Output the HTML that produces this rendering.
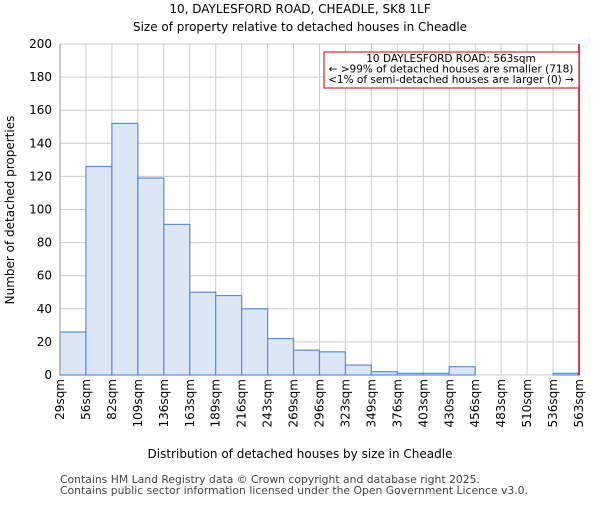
<!DOCTYPE html>
<html><head><meta charset="utf-8"><style>body{margin:0;background:#fff}svg{font-family:"DejaVu Sans","Liberation Sans",sans-serif}</style></head>
<body>
<svg id="c" width="600" height="500">
<text x="300" y="13" text-anchor="middle" font-size="12">10, DAYLESFORD ROAD, CHEADLE, SK8 1LF</text>
<text x="300" y="31" text-anchor="middle" font-size="12">Size of property relative to detached houses in Cheadle</text>
<g id="grid"></g><g id="bars"></g><g id="axes"></g>
<text x="300" y="458" text-anchor="middle" font-size="12">Distribution of detached houses by size in Cheadle</text>
<text transform="translate(14,210) rotate(-90)" text-anchor="middle" font-size="12">Number of detached properties</text>
<text x="60" y="483" font-size="10.8" fill="#444">Contains HM Land Registry data © Crown copyright and database right 2025.</text>
<text x="60" y="494" font-size="10.8" fill="#444">Contains public sector information licensed under the Open Government Licence v3.0.</text>
</svg>
<script>
const categories=["29sqm","56sqm","82sqm","109sqm","136sqm","163sqm","189sqm","216sqm","243sqm","269sqm","296sqm","323sqm","349sqm","376sqm","403sqm","430sqm","456sqm","483sqm","510sqm","536sqm","563sqm"];
const counts=[26,126,152,119,91,50,48,40,22,15,14,6,2,1,1,5,0,0,0,1];
const yTicks=[0,20,40,60,80,100,120,140,160,180,200];
const NS="http://www.w3.org/2000/svg";
const L=60,R=579,T=44,B=375,yMax=200;
const bw=(R-L)/counts.length;
const x=i=>L+i*bw, y=v=>B-(v/yMax)*(B-T);
function mk(p,t,a){const e=document.createElementNS(NS,t);for(const k in a)e.setAttribute(k,a[k]);document.getElementById(p).appendChild(e);return e;}
yTicks.forEach(v=>{
 const g=mk('grid','line',{x1:L,x2:R,y1:y(v),y2:y(v),stroke:'#ccc'});
 
 
 const t=mk('axes','text',{x:L-8,y:y(v)+4,'text-anchor':'end','font-size':12});
 t.textContent=v;
 
 
});
categories.forEach((c,i)=>{
 const g=mk('grid','line',{x1:x(i),x2:x(i),y1:T,y2:B,stroke:'#ccc'});
 
 
 const t=mk('axes','text',{transform:`translate(${x(i)+4},379) rotate(-90)`,'text-anchor':'end','font-size':12});
 t.textContent=c;
 
 
});
counts.forEach((v,i)=>{
 const r=mk('bars','rect',{x:x(i),y:y(v),width:bw,height:B-y(v),fill:'#dce6f4',stroke:'#5b8fd6','stroke-width':1.2});
 
 
});
const ax=mk('axes','line',{x1:L,x2:L,y1:T,y2:B,stroke:'#999'});


const ml=mk('axes','line',{x1:R,x2:R,y1:T,y2:B,stroke:'#cc0000','stroke-width':1.5});


const box=mk('axes','rect',{x:324,y:52,width:255,height:36,fill:'#fff',stroke:'#cc0000'});


["10 DAYLESFORD ROAD: 563sqm","← >99% of detached houses are smaller (718)","<1% of semi-detached houses are larger (0) →"].forEach((s,k)=>{
 const t=mk('axes','text',{x:451,y:62+k*10.5,'text-anchor':'middle','font-size':10.5});
 t.textContent=s;
 
 
});
</script>
</body></html>
